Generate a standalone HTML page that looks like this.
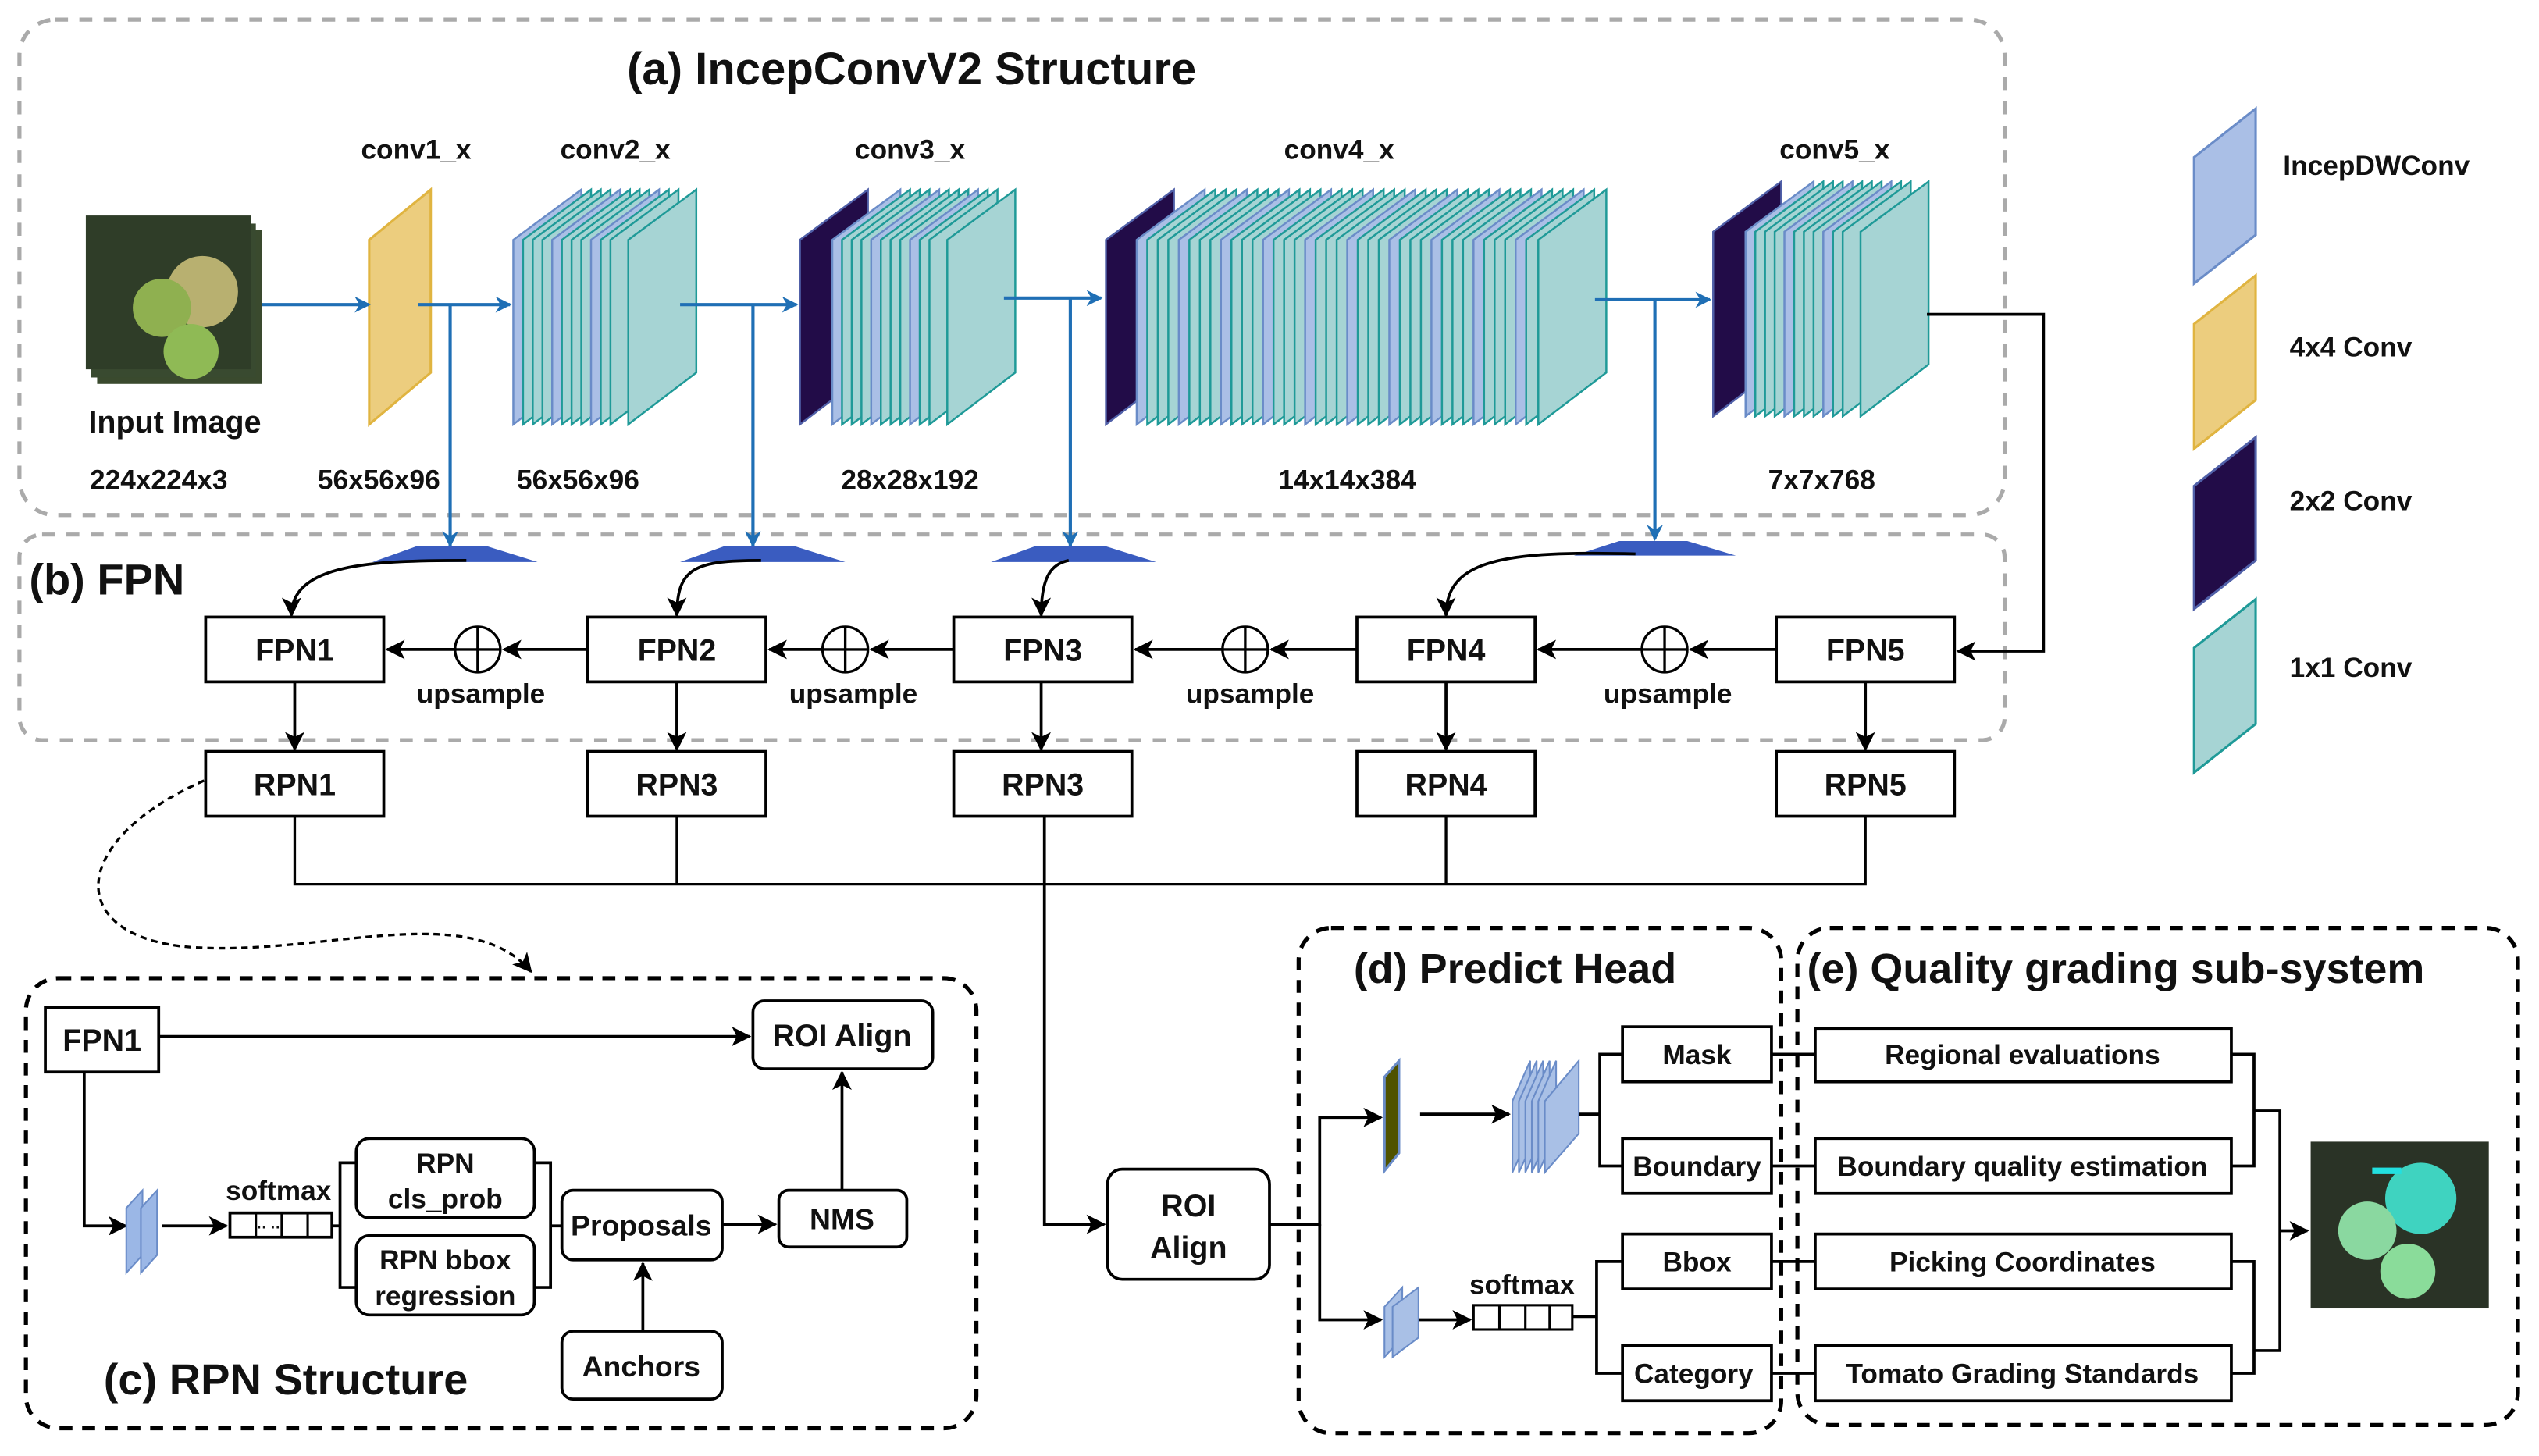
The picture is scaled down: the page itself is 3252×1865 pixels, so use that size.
<!DOCTYPE html>
<html><head><meta charset="utf-8"><style>
html,body{margin:0;padding:0;background:#fff;}
svg{display:block;}
text{font-family:"Liberation Sans",Arial,sans-serif;font-weight:bold;fill:#111;}
</style></head><body>
<svg width="3252" height="1865" viewBox="0 0 1568 899" xmlns="http://www.w3.org/2000/svg">
<defs>
<marker id="ab" markerWidth="10" markerHeight="10" refX="9" refY="5" orient="auto" markerUnits="userSpaceOnUse"><path d="M0,0 L10,5 L0,10 L3,5 z" fill="#1f6fb5"/></marker>
<marker id="ak" markerWidth="12" markerHeight="12" refX="11" refY="6" orient="auto" markerUnits="userSpaceOnUse"><path d="M0,0 L12,6 L0,12 L3,6 z" fill="#000"/></marker>
<g id="sB"><polygon points="0,31 42,0 42,113 0,145" fill="#aabfe6" stroke="#6a8cc8" stroke-width="1.2"/></g>
<g id="sT"><polygon points="0,31 42,0 42,113 0,145" fill="#a6d4d4" stroke="#1f9a98" stroke-width="1.2"/></g>
<g id="sD"><polygon points="0,31 42,0 42,113 0,145" fill="#220c48" stroke="#5060a8" stroke-width="1.2"/></g>
</defs>

<rect x="12" y="12" width="1226" height="306" rx="22" fill="none" stroke="#aaa" stroke-width="2.5" stroke-dasharray="8,7"/>
<rect x="12" y="330" width="1226" height="127" rx="14" fill="none" stroke="#aaa" stroke-width="2.5" stroke-dasharray="8,7"/>
<rect x="16" y="604" width="587" height="278" rx="20" fill="none" stroke="#000" stroke-width="2.5" stroke-dasharray="8,6"/>
<rect x="802" y="573" width="298" height="312" rx="20" fill="none" stroke="#000" stroke-width="2.5" stroke-dasharray="8,6"/>
<rect x="1110" y="573" width="445" height="307" rx="20" fill="none" stroke="#000" stroke-width="2.5" stroke-dasharray="8,6"/>

<text x="563" y="52" font-size="28" text-anchor="middle">(a)  IncepConvV2 Structure</text>
<text x="18" y="367" font-size="27">(b)  FPN</text>
<text x="64" y="861" font-size="27">(c)  RPN Structure</text>
<text x="836" y="607" font-size="26">(d)  Predict Head</text>
<text x="1116" y="607" font-size="26">(e)  Quality grading sub-system</text>

<g font-size="17" text-anchor="middle">
<text x="257" y="98">conv1_x</text><text x="380" y="98">conv2_x</text><text x="562" y="98">conv3_x</text><text x="827" y="98">conv4_x</text><text x="1133" y="98">conv5_x</text>
<text x="108" y="267" font-size="19">Input  Image</text>
<text x="98" y="302">224x224x3</text><text x="234" y="302">56x56x96</text><text x="357" y="302">56x56x96</text><text x="562" y="302">28x28x192</text><text x="832" y="302">14x14x384</text><text x="1125" y="302">7x7x768</text>
</g>

<rect x="60" y="142" width="102" height="95" fill="#3a4a2e"/>
<rect x="56" y="138" width="102" height="95" fill="#394a30"/>
<rect x="53" y="133" width="102" height="95" fill="#2f3d28"/>
<circle cx="125" cy="180" r="22" fill="#b8b070"/>
<circle cx="100" cy="190" r="18" fill="#8fb050"/>
<circle cx="118" cy="217" r="17" fill="#8fba55"/>

<polygon points="228,148 266,117 266,230 228,262" fill="#eccd7e" stroke="#e0b440" stroke-width="1.5"/>
<g transform="translate(0,117)">
<use href="#sB" x="317"/><use href="#sT" x="323"/><use href="#sT" x="329"/><use href="#sT" x="335"/>
<use href="#sB" x="341"/><use href="#sT" x="347"/><use href="#sT" x="353"/><use href="#sT" x="359"/>
<use href="#sB" x="365"/><use href="#sT" x="371"/><use href="#sT" x="377"/><use href="#sT" x="388"/>
</g>
<g transform="translate(0,117)">
<use href="#sD" x="494"/>
<use href="#sB" x="514"/><use href="#sT" x="520"/><use href="#sT" x="526"/><use href="#sT" x="532"/>
<use href="#sB" x="538"/><use href="#sT" x="544"/><use href="#sT" x="550"/><use href="#sT" x="556"/>
<use href="#sB" x="562"/><use href="#sT" x="568"/><use href="#sT" x="574"/><use href="#sT" x="585"/>
</g>
<g transform="translate(0,117)">
<use href="#sD" x="683"/>
<use href="#sB" x="702"/><use href="#sT" x="708.5"/><use href="#sT" x="715"/><use href="#sT" x="721.5"/>
<use href="#sB" x="728"/><use href="#sT" x="734.5"/><use href="#sT" x="741"/><use href="#sT" x="747.5"/>
<use href="#sB" x="754"/><use href="#sT" x="760.5"/><use href="#sT" x="767"/><use href="#sT" x="773.5"/>
<use href="#sB" x="780"/><use href="#sT" x="786.5"/><use href="#sT" x="793"/><use href="#sT" x="799.5"/>
<use href="#sB" x="806"/><use href="#sT" x="812.5"/><use href="#sT" x="819"/><use href="#sT" x="825.5"/>
<use href="#sB" x="832"/><use href="#sT" x="838.5"/><use href="#sT" x="845"/><use href="#sT" x="851.5"/>
<use href="#sB" x="858"/><use href="#sT" x="864.5"/><use href="#sT" x="871"/><use href="#sT" x="877.5"/>
<use href="#sB" x="884"/><use href="#sT" x="890.5"/><use href="#sT" x="897"/><use href="#sT" x="903.5"/>
<use href="#sB" x="910"/><use href="#sT" x="916.5"/><use href="#sT" x="923"/><use href="#sT" x="929.5"/>
<use href="#sB" x="936"/><use href="#sT" x="942.5"/><use href="#sT" x="950"/>
</g>
<g transform="translate(0,112)">
<use href="#sD" x="1058"/>
<use href="#sB" x="1078"/><use href="#sT" x="1084"/><use href="#sT" x="1090"/><use href="#sT" x="1096"/>
<use href="#sB" x="1102"/><use href="#sT" x="1108"/><use href="#sT" x="1114"/><use href="#sT" x="1120"/>
<use href="#sB" x="1126"/><use href="#sT" x="1132"/><use href="#sT" x="1138"/><use href="#sT" x="1149"/>
</g>

<g stroke="#1f6fb5" stroke-width="2" fill="none" marker-end="url(#ab)">
<line x1="162" y1="188" x2="228" y2="188"/>
<line x1="258" y1="188" x2="315" y2="188"/>
<line x1="420" y1="188" x2="492" y2="188"/>
<line x1="620" y1="184" x2="680" y2="184"/>
<line x1="985" y1="185" x2="1056" y2="185"/>
<line x1="278" y1="188" x2="278" y2="337"/>
<line x1="465" y1="188" x2="465" y2="337"/>
<line x1="661" y1="184" x2="661" y2="337"/>
<line x1="1022" y1="185" x2="1022" y2="333"/>
</g>
<g fill="#3a5cc0">
<polygon points="230,347 258,337 300,337 332,347"/>
<polygon points="420,347 448,337 490,337 522,347"/>
<polygon points="612,347 640,337 682,337 714,347"/>
<polygon points="972,343 1000,334 1042,334 1072,343"/>
</g>

<g stroke="#000" stroke-width="1.8" fill="none" marker-end="url(#ak)">
<path d="M288,346 C230,346 180,348 180,380"/>
<path d="M470,346 C430,346 418,350 418,380"/>
<path d="M660,346 C650,348 643,355 643,380"/>
<path d="M1010,342 C930,340 893,345 893,380"/>
<path d="M1190,194 L1262,194 L1262,402 L1209,402"/>
<line x1="363" y1="401" x2="311" y2="401"/><line x1="281" y1="401" x2="239" y2="401"/>
<line x1="589" y1="401" x2="538" y2="401"/><line x1="508" y1="401" x2="475" y2="401"/>
<line x1="838" y1="401" x2="785" y2="401"/><line x1="755" y1="401" x2="701" y2="401"/>
<line x1="1097" y1="401" x2="1044" y2="401"/><line x1="1014" y1="401" x2="950" y2="401"/>
<line x1="182" y1="421" x2="182" y2="463"/><line x1="418" y1="421" x2="418" y2="463"/>
<line x1="643" y1="421" x2="643" y2="463"/><line x1="893" y1="421" x2="893" y2="463"/>
<line x1="1152" y1="421" x2="1152" y2="463"/>
<path d="M645,504 L645,756 L682,756"/>
</g>
<g stroke="#000" stroke-width="1.6" fill="none">
<circle cx="295" cy="401" r="14"/><path d="M281,401h28M295,387v28"/>
<circle cx="522" cy="401" r="14"/><path d="M508,401h28M522,387v28"/>
<circle cx="769" cy="401" r="14"/><path d="M755,401h28M769,387v28"/>
<circle cx="1028" cy="401" r="14"/><path d="M1014,401h28M1028,387v28"/>
<path d="M182,504V546H1152V504M418,504V546M893,504V546"/>
</g>
<g font-size="17" text-anchor="middle"><text x="297" y="434">upsample</text><text x="527" y="434">upsample</text><text x="772" y="434">upsample</text><text x="1030" y="434">upsample</text></g>

<g fill="#fff" stroke="#000" stroke-width="1.8">
<rect x="127" y="381" width="110" height="40"/><rect x="363" y="381" width="110" height="40"/><rect x="589" y="381" width="110" height="40"/><rect x="838" y="381" width="110" height="40"/><rect x="1097" y="381" width="110" height="40"/>
<rect x="127" y="464" width="110" height="40"/><rect x="363" y="464" width="110" height="40"/><rect x="589" y="464" width="110" height="40"/><rect x="838" y="464" width="110" height="40"/><rect x="1097" y="464" width="110" height="40"/>
</g>
<g font-size="19" text-anchor="middle">
<text x="182" y="408">FPN1</text><text x="418" y="408">FPN2</text><text x="644" y="408">FPN3</text><text x="893" y="408">FPN4</text><text x="1152" y="408">FPN5</text>
<text x="182" y="491">RPN1</text><text x="418" y="491">RPN3</text><text x="644" y="491">RPN3</text><text x="893" y="491">RPN4</text><text x="1152" y="491">RPN5</text>
</g>

<path d="M126,482 C40,520 40,580 120,585 C200,590 290,555 328,600" fill="none" stroke="#000" stroke-width="1.6" stroke-dasharray="4,3" marker-end="url(#ak)"/>

<g fill="#fff" stroke="#000" stroke-width="1.8">
<rect x="28" y="622" width="70" height="40"/>
<rect x="465" y="618" width="111" height="42" rx="7"/>
<rect x="220" y="703" width="110" height="49" rx="8"/>
<rect x="220" y="763" width="110" height="49" rx="8"/>
<rect x="347" y="735" width="99" height="43" rx="7"/>
<rect x="481" y="735" width="79" height="35" rx="6"/>
<rect x="347" y="822" width="99" height="42" rx="7"/>
<rect x="142" y="749" width="63" height="15"/>
</g>
<path d="M158,749v15M174,749v15M190,749v15" stroke="#000" stroke-width="1.5"/>
<text x="166" y="761" font-size="9" text-anchor="middle">·· ··</text>
<g stroke="#000" stroke-width="1.8" fill="none">
<path d="M220,718H210V795H220M205,757H210M330,718H340V795H330M340,757H347"/>
</g>
<g stroke="#000" stroke-width="1.8" fill="none" marker-end="url(#ak)">
<line x1="98" y1="640" x2="463" y2="640"/>
<path d="M52,662V757H78"/>
<line x1="100" y1="757" x2="140" y2="757"/>
<line x1="446" y1="756" x2="479" y2="756"/>
<line x1="520" y1="735" x2="520" y2="662"/>
<line x1="397" y1="822" x2="397" y2="780"/>
</g>
<polygon points="78,746 88,735 88,775 78,786" fill="#9bb7e6" stroke="#6a8cc8"/>
<polygon points="87,746 97,735 97,775 87,786" fill="#9bb7e6" stroke="#6a8cc8"/>
<g font-size="19" text-anchor="middle">
<text x="63" y="649">FPN1</text><text x="520" y="646">ROI Align</text>
<text x="275" y="724" font-size="17">RPN</text><text x="275" y="746" font-size="17">cls_prob</text>
<text x="275" y="784" font-size="17">RPN bbox</text><text x="275" y="806" font-size="17">regression</text>
<text x="396" y="763" font-size="18">Proposals</text><text x="520" y="759" font-size="18">NMS</text>
<text x="396" y="850" font-size="18">Anchors</text>
<text x="172" y="741" font-size="17">softmax</text>
</g>

<rect x="684" y="722" width="100" height="68" rx="9" fill="#fff" stroke="#000" stroke-width="1.8"/>
<text x="734" y="751" font-size="19" text-anchor="middle">ROI</text>
<text x="734" y="777" font-size="19" text-anchor="middle">Align</text>

<g stroke="#000" stroke-width="1.8" fill="none" marker-end="url(#ak)">
<path d="M784,756H815V690H853"/>
<path d="M815,756V815H853"/>
<line x1="877" y1="688" x2="932" y2="688"/>
<line x1="876" y1="815" x2="908" y2="815"/>
<line x1="1408" y1="760" x2="1425" y2="760"/>
</g>
<polygon points="855,665 864,655 864,712 855,723" fill="#4f5200" stroke="#6a8cc8" stroke-width="1.5"/>
<g fill="#a9c0e6" stroke="#6a8cc8" stroke-width="1">
<polygon points="934,680 945,655 945,700 934,724"/>
<polygon points="938,680 949,655 949,700 938,724"/>
<polygon points="942,680 953,655 953,700 942,724"/>
<polygon points="946,680 957,655 957,700 946,724"/>
<polygon points="950,680 961,655 961,700 950,724"/>
<polygon points="954,680 975,655 975,700 954,724"/>
<polygon points="855,807 866,795 866,826 855,838"/>
<polygon points="860,807 876,795 876,826 860,838"/>
</g>
<rect x="910" y="806" width="61" height="15" fill="#fff" stroke="#000" stroke-width="1.5"/>
<path d="M926,806v15M942,806v15M957,806v15" stroke="#000" stroke-width="1.5"/>
<text x="940" y="799" font-size="17" text-anchor="middle">softmax</text>
<g stroke="#000" stroke-width="1.8" fill="none">
<path d="M975,688H988M1002,651H988V720H1002M971,813H986M1002,779H986V848H1002"/>
<path d="M1094,651H1121M1094,720H1121M1094,779H1121M1094,848H1121"/>
<path d="M1378,651H1392V720H1378M1392,686H1408V834H1392M1378,779H1392V848H1378"/>
</g>
<g fill="#fff" stroke="#000" stroke-width="1.8">
<rect x="1002" y="634" width="92" height="34"/><rect x="1002" y="703" width="92" height="34"/><rect x="1002" y="762" width="92" height="34"/><rect x="1002" y="831" width="92" height="34"/>
<rect x="1121" y="635" width="257" height="33"/><rect x="1121" y="703" width="257" height="34"/><rect x="1121" y="762" width="257" height="34"/><rect x="1121" y="831" width="257" height="34"/>
</g>
<g font-size="17" text-anchor="middle">
<text x="1048" y="657">Mask</text><text x="1048" y="726">Boundary</text><text x="1048" y="785">Bbox</text><text x="1046" y="854">Category</text>
<text x="1249" y="657">Regional evaluations</text><text x="1249" y="726">Boundary quality estimation</text><text x="1249" y="785">Picking Coordinates</text><text x="1249" y="854">Tomato Grading Standards</text>
</g>
<rect x="1427" y="705" width="110" height="103" fill="#2a3326"/>
<circle cx="1495" cy="740" r="22" fill="#3fd3c0"/>
<circle cx="1462" cy="760" r="18" fill="#8ad8a0"/>
<circle cx="1487" cy="785" r="17" fill="#8adc9a"/>
<rect x="1465" y="721" width="18" height="4" fill="#22e0e0"/>

<polygon points="1355,97 1393,67 1393,145 1355,175" fill="#aabfe6" stroke="#6a8cc8" stroke-width="1.5"/>
<polygon points="1355,200 1393,170 1393,247 1355,277" fill="#eccd7e" stroke="#e0b440" stroke-width="1.5"/>
<polygon points="1355,300 1393,270 1393,346 1355,376" fill="#220c48" stroke="#5060a8" stroke-width="1.5"/>
<polygon points="1355,400 1393,370 1393,447 1355,477" fill="#a6d4d4" stroke="#1f9a98" stroke-width="1.5"/>
<g font-size="17"><text x="1410" y="108">IncepDWConv</text><text x="1414" y="220">4x4 Conv</text><text x="1414" y="315">2x2 Conv</text><text x="1414" y="418">1x1 Conv</text></g>
</svg>
</body></html>
